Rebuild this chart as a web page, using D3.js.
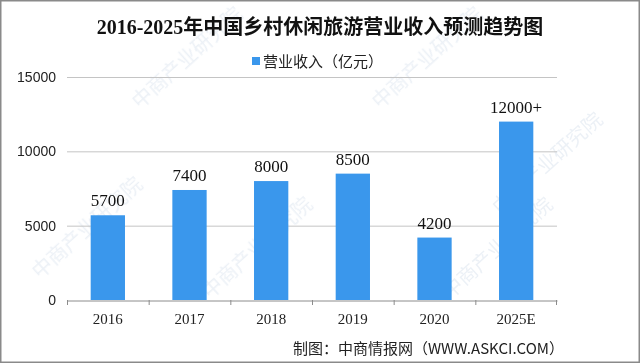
<!DOCTYPE html>
<html>
<head>
<meta charset="utf-8">
<script src="https://cdn.jsdelivr.net/npm/d3@7"></script>
<style>
  body { margin: 0; background: #fff; }
  svg { display: block; }
</style>
</head>
<body>
<svg id="chart" width="640" height="363"></svg>
<script>
// Data
var years = ['2016', '2017', '2018', '2019', '2020', '2025E'];
var revenue = [5700, 7400, 8000, 8500, 4200, 12000];
var valueLabels = ['5700', '7400', '8000', '8500', '4200', '12000+'];
var yTicks = [0, 5000, 10000, 15000];

var title = '2016-2025年中国乡村休闲旅游营业收入预测趋势图';
var legendText = '营业收入（亿元）';
var sourceText = '制图：中商情报网（WWW.ASKCI.COM）';

// Sizing
var width = 640, height = 363;
var margin = {left: 67, right: 83, top: 77, bottom: 63};
var svg = d3.select('#chart');

var x = d3.scaleBand()
  .domain(years)
  .range([margin.left, width - margin.right])
  .padding(0);

var y = d3.scaleLinear()
  .domain([0, 15000])
  .range([height - margin.bottom, margin.top]);

var barW = x.bandwidth() * 0.42;

// watermarks (faint)
var wm = svg.append('g').attr('fill', '#c9d6e6').attr('opacity', 0.35)
  .attr('font-family', 'Noto Sans CJK SC').attr('font-size', 20);
[[140, 110], [380, 110], [500, 215], [210, 300], [450, 300], [40, 280]].forEach(function(p) {
  wm.append('text')
    .attr('transform', 'translate(' + p[0] + ',' + p[1] + ') rotate(-42)')
    .text('中商产业研究院');
});

// grid
svg.append('g')
  .selectAll('line')
  .data(yTicks.slice(1))
  .join('line')
  .attr('x1', margin.left).attr('x2', width - margin.right)
  .attr('y1', d => y(d) + 0.5).attr('y2', d => y(d) + 0.5)
  .attr('stroke', '#c4c4c4');

// bars
svg.append('g')
  .selectAll('rect')
  .data(revenue)
  .join('rect')
  .attr('x', (d, i) => x(years[i]) + (x.bandwidth() - barW) / 2)
  .attr('y', d => y(d))
  .attr('width', barW)
  .attr('height', d => y(0) - y(d))
  .attr('fill', '#3a97ec');

// value labels
svg.append('g')
  .selectAll('text')
  .data(revenue)
  .join('text')
  .attr('x', (d, i) => x(years[i]) + x.bandwidth() / 2)
  .attr('y', d => y(d) - 9)
  .attr('text-anchor', 'middle')
  .attr('font-family', 'Liberation Serif')
  .attr('font-size', 17)
  .attr('fill', '#111')
  .text((d, i) => valueLabels[i]);

// x axis
var xAxis = svg.append('g')
  .attr('transform', 'translate(0,' + (y(0) + 0.5) + ')')
  .call(d3.axisBottom(x).tickSize(0).tickSizeOuter(0));
xAxis.select('.domain').attr('stroke', '#8c8c8c');
xAxis.selectAll('text')
  .attr('dy', 0)
  .attr('y', 23)
  .attr('font-family', 'Liberation Serif')
  .attr('font-size', 15)
  .attr('fill', '#222');
// band boundary ticks
svg.append('g')
  .selectAll('line')
  .data(years.concat(['end']))
  .join('line')
  .attr('x1', (d, i) => i < years.length ? x(d) + 0.5 : x.range()[1] - 0.5)
  .attr('x2', (d, i) => i < years.length ? x(d) + 0.5 : x.range()[1] - 0.5)
  .attr('y1', y(0)).attr('y2', y(0) + 5)
  .attr('stroke', '#8c8c8c');

// y axis labels
svg.append('g')
  .selectAll('text')
  .data(yTicks)
  .join('text')
  .attr('x', 56)
  .attr('y', d => y(d) + 5)
  .attr('text-anchor', 'end')
  .attr('font-family', 'Liberation Sans')
  .attr('font-size', 14)
  .attr('fill', '#222')
  .text(d => d);

// title
svg.append('text')
  .attr('x', 320).attr('y', 34)
  .attr('text-anchor', 'middle')
  .attr('font-family', 'Liberation Serif, Noto Sans CJK SC')
  .attr('font-weight', 'bold')
  .attr('font-size', 20)
  .attr('fill', '#111')
  .text(title);

// legend
svg.append('rect')
  .attr('x', 252).attr('y', 57).attr('width', 8).attr('height', 8)
  .attr('fill', '#3a97ec');
svg.append('text')
  .attr('x', 263).attr('y', 67)
  .attr('font-family', 'Noto Sans CJK SC')
  .attr('font-size', 15)
  .attr('fill', '#222')
  .text(legendText);

// source
svg.append('text')
  .attr('x', 564).attr('y', 354)
  .attr('text-anchor', 'end')
  .attr('font-family', 'Noto Sans CJK SC')
  .attr('font-size', 15)
  .attr('fill', '#222')
  .text(sourceText);

// frame
svg.append('rect')
  .attr('x', 0.75).attr('y', 0.75)
  .attr('width', width - 1.5).attr('height', height - 1.5)
  .attr('fill', 'none')
  .attr('stroke', '#8a8a8a')
  .attr('stroke-width', 1.5);
</script>
</body>
</html>
